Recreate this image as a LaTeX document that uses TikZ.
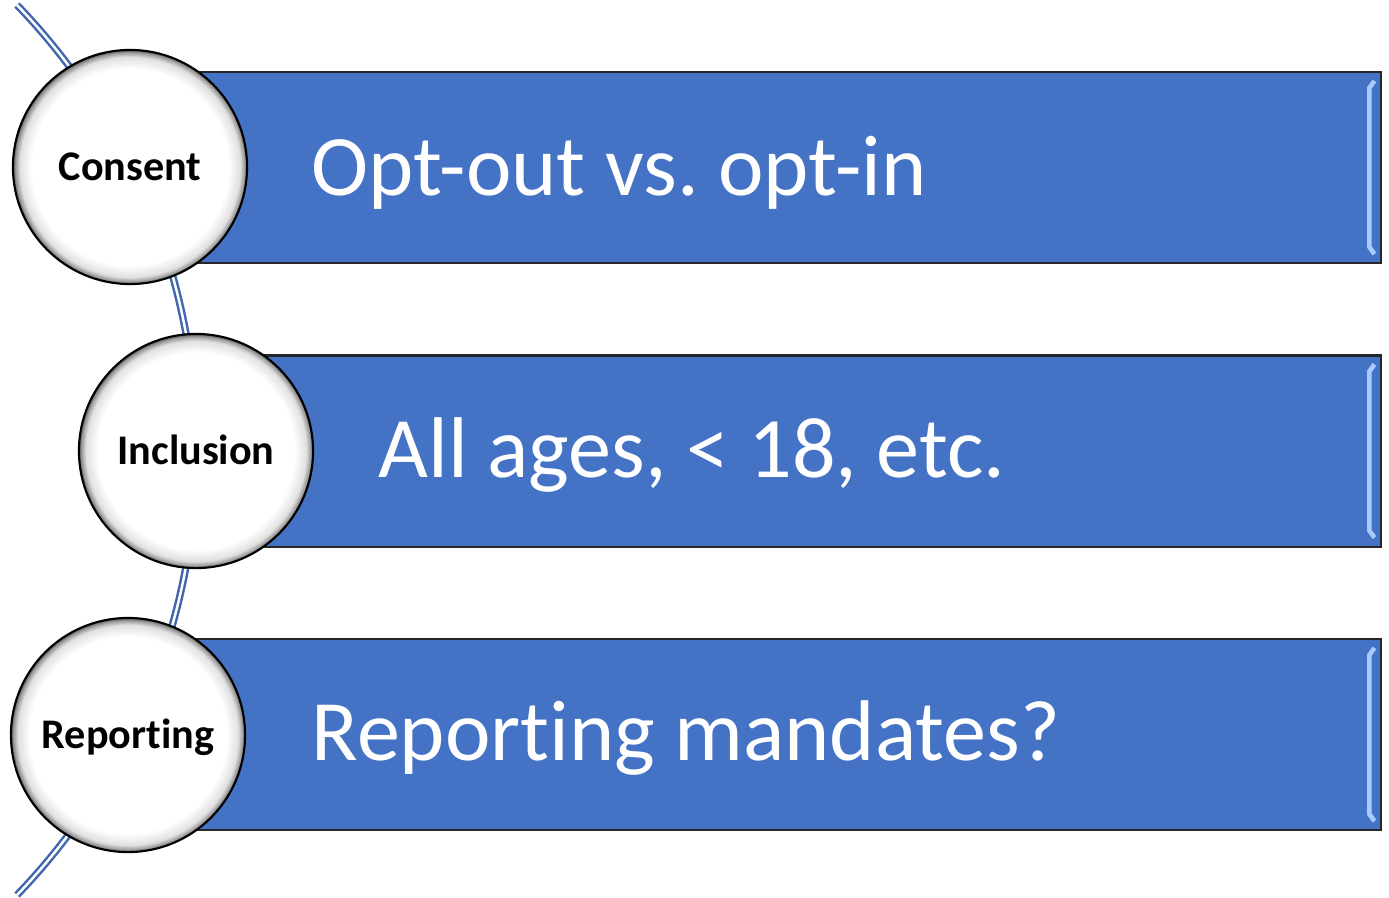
\documentclass[tikz,border=0pt]{standalone}
\usepackage{fontspec}
\setmainfont{Carlito}[Ligatures=NoCommon]
\usetikzlibrary{calc}
\definecolor{barblue}{HTML}{4472C4}
\definecolor{arcblue}{HTML}{4166AE}
\definecolor{bevel}{HTML}{A9CBFF}
\pgfdeclareradialshading{rim}{\pgfpoint{0bp}{0bp}}{color(0bp)=(white); color(21bp)=(white); color(23.5bp)=(black!12); color(24.5bp)=(black!40); color(25bp)=(black!65)}
\tikzset{
  bar/.style={rectangle, draw=black!85, line width=0.6pt, fill=barblue,
    minimum height=1.91cm, inner sep=0pt},
  disc/.style={circle, draw=black, line width=0.6pt, shading=rim,
    minimum size=2.34cm, inner sep=0pt, font=\bfseries\fontsize{12}{14}\selectfont,
    text height=7.7pt, text depth=0pt},
  bartext/.style={anchor=base west, text=white, inner sep=0pt,
    font=\fontsize{24.5}{28}\selectfont},
  shine/.style={bevel, line width=1.3pt}
}
\begin{document}
\begin{tikzpicture}[x=0.01cm, y=-0.01cm]
		\useasboundingbox (0,0) rectangle (1389,897);
		% the spine behind the discs
		\draw[arcblue, line width=0.7pt, double=white, double distance=0.7pt]
		(17,5) arc[start angle=-43.96, end angle=43.96, radius=641.1];
		%
		% bars
		\node[bar, minimum width=11.91cm] (b1) at (785.5,167.5) {};
		\node[bar, minimum width=11.21cm] (b2) at (820.5,451) {};
		\node[bar, minimum width=11.91cm] (b3) at (785.5,734.5) {};
		\foreach \b in {b1,b2,b3}{
			\draw[shine] ($(\b.north east)+(-8,10)$) -- ($(\b.north east)+(-13,17)$)
			-- ($(\b.south east)+(-13,-17)$) -- ($(\b.south east)+(-8,-10)$);
		}
		%
		\node[bartext] (t1) at (311,195) {Opt-out vs.\ opt-in};
		\node[bartext] (t2) at (378,477) {All ages, < 18, etc.};
		\node[bartext] (t3) at (311,760) {Reporting mandates?};
		%
		% discs
		\node[disc] (c1) at (130,167) {Consent};
		\node[disc] (c2) at (196,451) {Inclusion};
		\node[disc] (c3) at (128,735) {Reporting};
	\end{tikzpicture}
\end{document}
